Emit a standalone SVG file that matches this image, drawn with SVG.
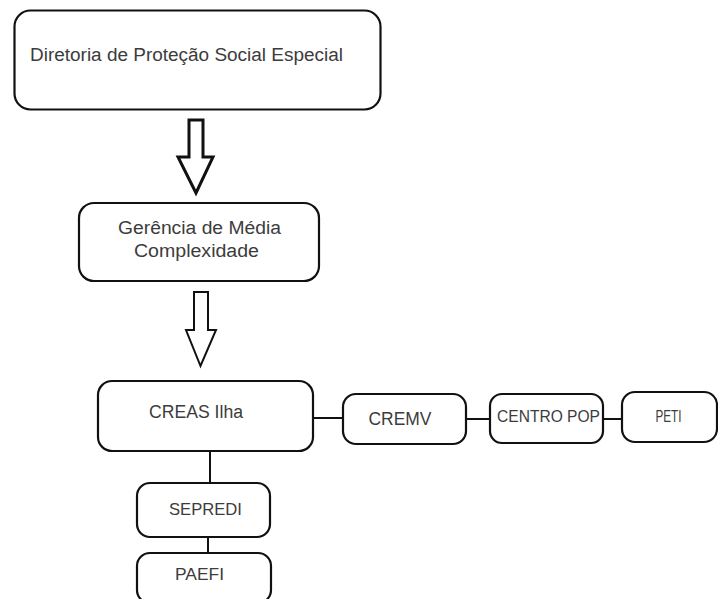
<svg xmlns="http://www.w3.org/2000/svg" width="718" height="599" viewBox="0 0 718 599">
<style>
.box{fill:#fff;stroke:#111;stroke-width:2.2}
.lbl{font-family:"Liberation Sans",Arial,sans-serif;fill:#3c3c3c;text-anchor:middle}
.arrow{fill:#fff;stroke:#111;stroke-linejoin:miter}
.conn{stroke:#111;stroke-width:2;fill:none}
</style>
<rect width="718" height="599" fill="#fff"/>
<g id="connectors">
<path class="arrow" stroke-width="3" d="M189,120 H203 V157 H213 L196,193 L178,157 H189 Z"/>
<path class="arrow" stroke-width="2" d="M194,292 H208 V330 H216 L200.5,366 L186,330 H194 Z"/>
<line class="conn" x1="313" y1="418" x2="343" y2="418"/>
<line class="conn" x1="466" y1="419" x2="490" y2="419"/>
<line class="conn" x1="603" y1="419" x2="622" y2="419"/>
<line class="conn" x1="210" y1="451" x2="210" y2="483"/>
<line class="conn" x1="208" y1="537" x2="208" y2="553"/>
</g>
<g id="diretoria">
<rect class="box" x="14.5" y="10.5" width="366" height="99" rx="16" stroke-width="3.5"/>
<text class="lbl" x="186.5" y="61" font-size="18" textLength="313" lengthAdjust="spacingAndGlyphs">Diretoria de Proteção Social Especial</text>
</g>
<g id="gerencia">
<rect class="box" x="79" y="203" width="240" height="78" rx="15"/>
<text class="lbl" x="199.5" y="234" font-size="18" textLength="163" lengthAdjust="spacingAndGlyphs">Gerência de Média</text>
<text class="lbl" x="196.5" y="257" font-size="18" textLength="125" lengthAdjust="spacingAndGlyphs">Complexidade</text>
</g>
<g id="creas">
<rect class="box" x="98" y="381" width="215" height="70" rx="14" stroke-width="2.5"/>
<text class="lbl" x="196" y="418" font-size="18" textLength="94" lengthAdjust="spacingAndGlyphs">CREAS Ilha</text>
</g>
<g id="cremv">
<rect class="box" x="343" y="394" width="123" height="50" rx="13"/>
<text class="lbl" x="400" y="425" font-size="18" textLength="63" lengthAdjust="spacingAndGlyphs">CREMV</text>
</g>
<g id="centropop">
<rect class="box" x="490" y="394" width="113" height="49" rx="12"/>
<text class="lbl" x="548.5" y="422" font-size="16" textLength="103" lengthAdjust="spacingAndGlyphs">CENTRO POP</text>
</g>
<g id="peti">
<rect class="box" x="622" y="392" width="95" height="50" rx="13"/>
<text class="lbl" x="668.5" y="422" font-size="16" textLength="26" lengthAdjust="spacingAndGlyphs">PETI</text>
</g>
<g id="sepredi">
<rect class="box" x="137" y="483" width="133" height="54" rx="13"/>
<text class="lbl" x="205.5" y="515" font-size="17" textLength="73" lengthAdjust="spacingAndGlyphs">SEPREDI</text>
</g>
<g id="paefi">
<rect class="box" x="137" y="553" width="134" height="50" rx="13"/>
<text class="lbl" x="199.5" y="580" font-size="17" textLength="49" lengthAdjust="spacingAndGlyphs">PAEFI</text>
</g>
</svg>
